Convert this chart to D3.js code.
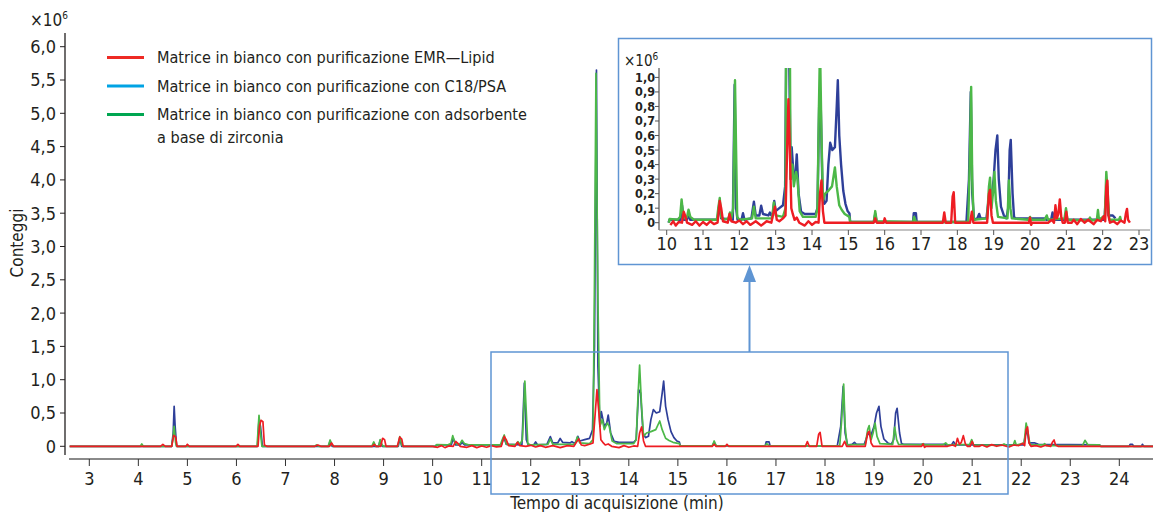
<!DOCTYPE html>
<html>
<head>
<meta charset="utf-8">
<script src="https://cdn.jsdelivr.net/npm/d3@7"></script>
<style>
  body { margin: 0; background: #fff; }
  svg { display: block; }
  text { font-family: "Liberation Sans Narrow", "DejaVu Sans Condensed", "DejaVu Sans", sans-serif; font-stretch: condensed; fill: #231f20; }
</style>
</head>
<body>
<div id="chart"></div>
<script>
/* series: [time (min), counts (x10^6)] */
const emrLipid = [
  [2.6,0],[4.45,0],[4.5,0.03],[4.55,0],
  [4.68,0],[4.72,0.165],[4.76,0.14],[4.79,0],
  [4.97,0],[5.0,0.03],[5.04,0],
  [5.99,0],[6.03,0.03],[6.07,0],
  [6.44,0],[6.47,0.3],[6.5,0.39],[6.54,0.37],[6.57,0.02],[6.62,0],
  [7.6,0],[7.66,0.02],[7.72,0],
  [7.9,0],[7.94,0.05],[7.98,0],
  [8.77,0],[8.81,0.03],[8.85,0],
  [8.94,0],[8.98,0.12],[9.02,0.1],[9.05,0],
  [9.28,0],[9.33,0.14],[9.37,0.11],[9.4,0],
  [10.0,0],[10.1,-0.015],[10.18,0.01],[10.25,-0.02],[10.33,0.005],
  [10.42,0],[10.47,0.075],[10.52,0.04],[10.56,0],
  [10.7,-0.015],[10.8,0.01],[10.9,-0.02],[11.0,0.005],[11.1,-0.015],[11.2,0.01],[11.3,-0.01],
  [11.4,0],[11.46,0.15],[11.5,0.1],[11.55,0.01],
  [11.68,0],[11.73,0.06],[11.78,0.01],
  [11.9,0],[12.0,0.015],[12.1,-0.01],[12.2,0.01],[12.3,-0.015],[12.45,0.01],[12.6,-0.02],[12.75,0.01],[12.88,0],
  [12.93,0.06],[12.98,0.11],[13.03,0.02],[13.1,0.01],[13.2,0.03],[13.27,0.05],
  [13.3,0.35],[13.35,0.85],[13.39,0.5],[13.43,0.1],[13.47,0.06],[13.52,0.02],[13.58,0.035],[13.65,0],
  [13.8,-0.02],[13.9,0.01],[14.0,-0.015],[14.1,0.005],[14.18,0],
  [14.22,0.2],[14.26,0.29],[14.3,0.08],[14.34,0],
  [15.7,0],[15.74,0.03],[15.78,0],
  [15.97,0],[16.0,0.03],[16.04,0],
  [17.6,0],[17.64,0.07],[17.68,0],
  [17.83,0],[17.87,0.18],[17.9,0.21],[17.94,0],
  [18.35,0],[18.4,0.075],[18.44,0],
  [18.82,0],[18.87,0.2],[18.9,0.225],[18.94,0.05],[18.98,0],
  [19.97,0],[20.0,0.035],[20.03,-0.015],[20.06,0],
  [20.5,0],[20.6,0.02],[20.66,0],[20.7,0.12],[20.74,0.03],[20.78,0.06],[20.82,0.16],[20.86,0.04],[20.9,0],
  [20.96,0],[21.0,0.075],[21.04,0],
  [21.15,0],[21.2,0.02],[21.3,-0.01],[21.4,0.025],[21.5,0],[21.6,0.02],[21.75,-0.01],[21.85,0.02],[21.95,0.01],[22.03,0.045],[22.07,0.01],
  [22.1,0.25],[22.13,0.29],[22.16,0.05],[22.2,0],
  [22.3,0.01],[22.4,-0.01],[22.5,0.015],[22.6,0],
  [22.64,0.065],[22.67,0.095],[22.7,0.02],[22.75,0],
  [24.7,0]
];

const c18Psa = [
  [2.6,0],[4.68,0],[4.71,0.2],[4.73,0.6],[4.75,0.3],[4.78,0],
  [6.43,0],[6.46,0.4],[6.49,0.3],[6.53,0],
  [7.88,0],[7.91,0.08],[7.95,0],
  [8.9,0],[8.93,0.09],[8.97,0],
  [9.3,0],[9.33,0.12],[9.37,0],
  [10.05,0],[10.08,0.02],[10.38,0.02],[10.42,0.12],[10.47,0.02],
  [10.56,0.02],[10.6,0.06],[10.65,0.02],
  [11.4,0.02],[11.45,0.14],[11.5,0.03],
  [11.82,0.02],[11.87,0.95],[11.91,0.1],[11.95,0.02],
  [12.06,0.02],[12.1,0.065],[12.14,0.02],
  [12.33,0.03],[12.4,0.145],[12.45,0.05],[12.55,0.05],[12.6,0.117],[12.65,0.06],[12.8,0.05],[12.84,0.07],[12.88,0.05],
  [12.92,0.06],[12.96,0.15],[13.0,0.08],[13.1,0.1],[13.2,0.12],[13.26,0.25],
  [13.3,1.5],[13.34,5.65],[13.37,1.2],[13.41,0.3],[13.44,0.52],[13.5,0.3],[13.55,0.35],[13.58,0.47],[13.63,0.2],
  [13.7,0.075],[13.8,0.06],[14.1,0.06],[14.15,0.1],
  [14.2,0.85],[14.24,0.8],[14.29,0.2],[14.34,0.13],[14.4,0.15],
  [14.45,0.4],[14.5,0.55],[14.56,0.5],[14.63,0.52],[14.68,0.8],[14.71,0.98],[14.75,0.6],[14.8,0.4],
  [14.86,0.22],[14.92,0.13],[14.98,0.08],[15.03,0.064],[15.05,0.005],
  [15.7,0.005],[15.74,0.06],[15.78,0.005],
  [16.78,0.005],[16.8,0.065],[16.86,0.065],[16.88,0.005],
  [18.25,0.005],[18.32,0.3],[18.37,0.9],[18.41,0.2],[18.46,0.02],
  [18.55,0.03],[18.6,0.06],[18.64,0.03],[18.8,0.03],
  [18.88,0.2],[18.93,0.15],[19.0,0.3],[19.05,0.5],[19.1,0.6],[19.14,0.3],[19.2,0.11],[19.28,0.05],[19.35,0.03],
  [19.4,0.1],[19.44,0.5],[19.47,0.57],[19.52,0.2],[19.56,0.04],[19.6,0.03],
  [20.4,0.03],[20.45,0.02],[20.58,0.02],[20.62,0.07],[20.66,0.02],
  [22.05,0.02],[22.08,0.15],[22.12,0.25],[22.16,0.05],[22.28,0.05],[22.35,0.03],
  [23.6,0.02],[23.62,0],[24.2,0],[24.22,0.03],[24.27,0.03],[24.29,0],
  [24.45,0],[24.47,0.03],[24.5,0],[24.7,0]
];

const zirconia = [
  [2.6,0],[4.04,0],[4.07,0.035],[4.1,0],
  [4.68,0],[4.71,0.15],[4.73,0.3],[4.76,0.05],[4.78,0],
  [6.42,0],[6.46,0.465],[6.49,0.2],[6.52,0],
  [7.6,0],[7.63,0.02],[7.68,0],
  [7.87,0],[7.91,0.095],[7.95,0.02],[7.98,0],
  [8.76,0],[8.8,0.065],[8.84,0],
  [8.9,0],[8.93,0.1],[8.97,0.02],[9.0,0],
  [9.29,0],[9.33,0.145],[9.37,0.02],[9.4,0],
  [10.06,0],[10.08,0.025],[10.3,0.02],[10.37,0.04],[10.41,0.16],[10.45,0.06],[10.5,0.03],
  [10.56,0.04],[10.6,0.09],[10.65,0.04],[10.75,0.02],
  [11.38,0.02],[11.42,0.1],[11.46,0.17],[11.5,0.04],[11.55,0.02],
  [11.7,0.03],[11.74,0.07],[11.78,0.03],
  [11.83,0.1],[11.86,0.6],[11.88,0.98],[11.91,0.5],[11.94,0.04],[12.0,0.02],
  [12.35,0.03],[12.4,0.11],[12.45,0.03],[12.9,0.03],[12.95,0.14],[13.0,0.05],[13.2,0.04],[13.27,0.1],
  [13.3,2.5],[13.33,5.6],[13.37,2.2],[13.41,0.3],[13.46,0.4],[13.5,0.25],[13.56,0.35],[13.6,0.3],
  [13.66,0.08],[13.75,0.04],[14.1,0.04],[14.15,0.1],
  [14.19,0.8],[14.22,1.22],[14.26,0.6],[14.3,0.15],[14.36,0.2],[14.45,0.22],[14.55,0.25],
  [14.63,0.38],[14.68,0.25],[14.75,0.12],[14.82,0.087],[14.9,0.06],[15.03,0.04],[15.05,0.005],
  [15.7,0.005],[15.74,0.08],[15.78,0.01],
  [16.78,0.005],[16.81,0.04],[16.86,0.005],
  [18.3,0.005],[18.34,0.4],[18.38,0.935],[18.41,0.3],[18.45,0.02],
  [18.82,0.03],[18.87,0.25],[18.9,0.31],[18.94,0.1],[18.98,0.2],[19.02,0.35],[19.06,0.15],[19.12,0.04],
  [19.38,0.03],[19.42,0.29],[19.46,0.1],[19.5,0.03],
  [19.95,0.02],[20.0,0.04],[20.04,0.02],[20.4,0.02],[20.46,0.05],[20.5,0.02],
  [20.95,0.03],[20.99,0.1],[21.03,0.02],
  [21.6,0.015],[21.65,0.035],[21.7,0.015],[21.84,0.02],[21.87,0.087],[21.9,0.02],
  [22.06,0.05],[22.1,0.35],[22.14,0.2],[22.18,0.02],[22.45,0.02],[22.48,0.04],[22.51,0.01],
  [23.25,0.01],[23.3,0.09],[23.36,0.02],[23.6,0.02],[23.62,0],[24.7,0]
];

const legendLabels = [
  ["Matrice in bianco con purificazione EMR\u2014Lipid"],
  ["Matrice in bianco con purificazione con C18/PSA"],
  ["Matrice in bianco con purificazione con adsorbente", "a base di zirconia"]
];
const mainXTicks = d3.range(3, 25);
const mainYTicks = d3.range(0, 6.01, 0.5);
const insetXTicks = d3.range(10, 24);
const insetYTicks = d3.range(0, 1.01, 0.1);

const legendColors = ["#ee2a24", "#00a3e4", "#00a651"];
const lineColors = { red: "#ee1d23", blue: "#2e3f99", green: "#4cb848" };
const frameColor = "#5f95d3";

const fmt = (v) => v === 0 ? "0" : d3.format(".1f")(v).replace(".", ",");

const svg = d3.select("#chart").append("svg")
  .attr("width", 1153)
  .attr("height", 512);

/* ---------- main chromatogram ---------- */
const x = d3.scaleLinear().domain([3, 24]).range([89.3, 1119.3]);
const y = d3.scaleLinear().domain([0, 6]).range([446.3, 46.7]);

svg.append("clipPath").attr("id", "mainClip")
  .append("rect").attr("x", 69).attr("y", 30).attr("width", 1084).attr("height", 424);

const line = d3.line().x(d => x(d[0])).y(d => y(d[1]));
const mainLines = svg.append("g").attr("clip-path", "url(#mainClip)");
[[c18Psa, lineColors.blue], [zirconia, lineColors.green], [emrLipid, lineColors.red]].forEach(([data, color]) => {
  mainLines.append("path")
    .datum(data)
    .attr("fill", "none")
    .attr("stroke", color)
    .attr("stroke-width", 1.7)
    .attr("stroke-linejoin", "round")
    .attr("d", line);
});

/* y axis */
const yAxis = svg.append("g");
yAxis.append("line")
  .attr("x1", 65).attr("x2", 65).attr("y1", 33).attr("y2", 455)
  .attr("stroke", "#231f20").attr("stroke-width", 1.3);
yAxis.selectAll(".ytick").data(mainYTicks).enter().append("line")
  .attr("x1", 60).attr("x2", 65)
  .attr("y1", d => y(d)).attr("y2", d => y(d))
  .attr("stroke", "#231f20").attr("stroke-width", 1);
yAxis.selectAll(".ylab").data(mainYTicks).enter().append("text")
  .attr("x", 56).attr("y", d => y(d))
  .attr("dy", "0.36em")
  .attr("text-anchor", "end")
  .attr("font-size", 18)
  .text(fmt);
svg.append("text")
  .attr("x", 30).attr("y", 26)
  .attr("font-size", 17)
  .text("\u00d710")
  .append("tspan").attr("dy", -7).attr("font-size", 10).text("6");
svg.append("text")
  .attr("transform", "translate(23,243) rotate(-90)")
  .attr("text-anchor", "middle")
  .attr("font-size", 17)
  .text("Conteggi");

/* x axis */
const xAxis = svg.append("g");
xAxis.append("line")
  .attr("x1", 69).attr("x2", 1153).attr("y1", 459).attr("y2", 459)
  .attr("stroke", "#8a8a8a").attr("stroke-width", 2);
xAxis.selectAll(".xtick").data(mainXTicks).enter().append("line")
  .attr("x1", d => x(d)).attr("x2", d => x(d))
  .attr("y1", 459).attr("y2", 466)
  .attr("stroke", "#333").attr("stroke-width", 1);
xAxis.selectAll(".xlab").data(mainXTicks).enter().append("text")
  .attr("x", d => x(d)).attr("y", 485)
  .attr("text-anchor", "middle")
  .attr("font-size", 18)
  .text(d => d);
svg.append("text")
  .attr("x", 617).attr("y", 509)
  .attr("text-anchor", "middle")
  .attr("font-size", 17)
  .text("Tempo di acquisizione (min)");

/* legend */
const legend = svg.append("g");
legendLabels.forEach((lines, i) => {
  const ly = 57.5 + i * 28.5;
  legend.append("line")
    .attr("x1", 107).attr("x2", 144).attr("y1", ly).attr("y2", ly)
    .attr("stroke", legendColors[i]).attr("stroke-width", 3);
  lines.forEach((t, j) => {
    legend.append("text")
      .attr("x", 157).attr("y", ly + j * 22.5)
      .attr("dy", "0.36em")
      .attr("font-size", 16.1)
      .text(t);
  });
});

/* zoom region marker and arrow */
svg.append("rect")
  .attr("x", 491).attr("y", 352).attr("width", 517).attr("height", 142)
  .attr("fill", "none").attr("stroke", frameColor).attr("stroke-width", 1.5);
svg.append("line")
  .attr("x1", 749.5).attr("x2", 749.5).attr("y1", 352).attr("y2", 280)
  .attr("stroke", frameColor).attr("stroke-width", 2);
svg.append("path")
  .attr("d", "M749.5,265 L743,282 L756,282 Z")
  .attr("fill", frameColor);

/* ---------- inset ---------- */
svg.append("rect")
  .attr("x", 618.5).attr("y", 38.5).attr("width", 533).attr("height", 226)
  .attr("fill", "#fff").attr("stroke", frameColor).attr("stroke-width", 1.5);

const xi = d3.scaleLinear().domain([10, 23]).range([666.7, 1139]);
const yi = d3.scaleLinear().domain([0, 1]).range([222.7, 77.4]);

svg.append("clipPath").attr("id", "insetClip")
  .append("rect").attr("x", 660).attr("y", 68).attr("width", 488).attr("height", 160);

const insetLine = d3.line().x(d => xi(d[0])).y(d => yi(d[1]));
const insetLines = svg.append("g").attr("clip-path", "url(#insetClip)");
[[c18Psa, lineColors.blue], [zirconia, lineColors.green], [emrLipid, lineColors.red]].forEach(([data, color]) => {
  insetLines.append("path")
    .datum(data.filter(d => d[0] >= 10.05 && d[0] <= 23.1))
    .attr("fill", "none")
    .attr("stroke", color)
    .attr("stroke-width", 2.4)
    .attr("stroke-linejoin", "round")
    .attr("d", insetLine);
});

const insetAxis = svg.append("g");
insetAxis.append("line")
  .attr("x1", 659).attr("x2", 659).attr("y1", 68).attr("y2", 230)
  .attr("stroke", "#555").attr("stroke-width", 1.2);
insetAxis.selectAll(".iytick").data(insetYTicks).enter().append("line")
  .attr("x1", 655).attr("x2", 659)
  .attr("y1", d => yi(d)).attr("y2", d => yi(d))
  .attr("stroke", "#555");
insetAxis.selectAll(".iylab").data(insetYTicks).enter().append("text")
  .attr("x", 655).attr("y", d => yi(d))
  .attr("dy", "0.36em")
  .attr("text-anchor", "end")
  .attr("font-size", 12.5)
  .attr("font-weight", "bold")
  .text(fmt);
insetAxis.append("line")
  .attr("x1", 659).attr("x2", 1150).attr("y1", 230).attr("y2", 230)
  .attr("stroke", "#888").attr("stroke-width", 1.2);
insetAxis.selectAll(".ixtick").data(insetXTicks).enter().append("line")
  .attr("x1", d => xi(d)).attr("x2", d => xi(d))
  .attr("y1", 230).attr("y2", 235)
  .attr("stroke", "#555");
insetAxis.selectAll(".ixlab").data(insetXTicks).enter().append("text")
  .attr("x", d => xi(d)).attr("y", 250)
  .attr("text-anchor", "middle")
  .attr("font-size", 18)
  .text(d => d);
svg.append("text")
  .attr("x", 624).attr("y", 66)
  .attr("font-size", 15)
  .text("\u00d710")
  .append("tspan").attr("dy", -6).attr("font-size", 10).text("6");
</script>
</body>
</html>
